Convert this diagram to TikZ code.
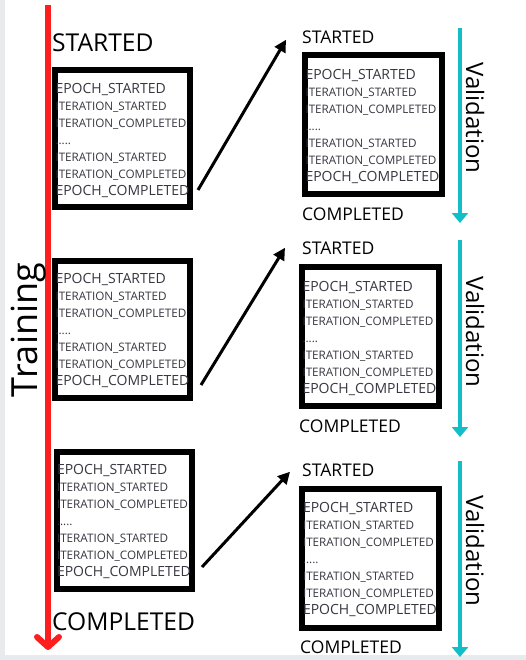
\documentclass[tikz,border=0pt]{standalone}
\usepackage{fontspec}
\setmainfont{Open Sans}
\usepackage{xcolor}
\usepackage{tikz}
\usetikzlibrary{arrows.meta}

\definecolor{trainred}{RGB}{255,30,30}
\definecolor{valcyan}{RGB}{20,190,200}
\definecolor{evgray}{RGB}{55,55,65}
\definecolor{edgegray}{RGB}{232,235,238}

\newcommand{\evbig}{\fontsize{14}{17}\selectfont}
\newcommand{\evsmall}{\fontsize{11.7}{17}\selectfont}
\newcommand{\epochevents}{%
  \evbig\rule{0pt}{14pt}EPOCH\_STARTED\\
  \evsmall ITERATION\_STARTED\\
  \evsmall ITERATION\_COMPLETED\\
  \evsmall .....\\
  \evsmall ITERATION\_STARTED\\
  \evsmall ITERATION\_COMPLETED\\
  \evbig EPOCH\_COMPLETED}

\begin{document}
\begin{tikzpicture}[x=1pt,y=-1pt,
    evbox/.style={draw,line width=6pt,text width=134pt,inner xsep=0.5pt,minimum height=137pt,align=left,font=\evbig,text=evgray},
    valbox/.style={evbox,text width=135pt,inner xsep=1pt,minimum height=139pt},
    biglabel/.style={font=\fontsize{24.6}{28}\selectfont,inner sep=0pt,anchor=base west},
    smalllabel/.style={font=\fontsize{17.5}{20}\selectfont,inner sep=0pt,anchor=base west},
    epocharrow/.style={-{Triangle[length=12pt,width=12pt]},line width=3pt},
    valline/.style={-{Triangle[length=10pt,width=16pt]},line width=4pt,valcyan}]
    \useasboundingbox (0,0) rectangle (526,660);
    \fill[edgegray] (0,0) rectangle (526,660);
    \fill[white] (5,0) rectangle (526,655);

    % Training
    \coordinate (ttop) at (48,5);
    \coordinate (tbot) at (48,650);
    \draw[-{Straight Barb[round,length=10pt,width=22pt]},line width=6pt,trainred] (ttop) -- (tbot);
    \node[rotate=90,font=\fontsize{36}{40}\selectfont] (train) at (29,330) {Training};
    \node[biglabel] (ts) at (52,52) {STARTED};
    \node[biglabel] (tc) at (52,630) {COMPLETED};
    \node[evbox] (e1) at (122.5,138.5) {\epochevents};
    \node[evbox] (e2) at (122.5,329) {\epochevents};
    \node[evbox] (e3) at (124,520) {\epochevents};

    % Validation 1
    \node[smalllabel] (vs1) at (302,44) {STARTED};
    \node[valbox] (v1) at (373,124.5) {\epochevents};
    \node[smalllabel] (vc1) at (302,220) {COMPLETED};
    \coordinate (va1) at (460,28);
    \coordinate (vb1) at (460,223);
    \draw[valline] (va1) -- (vb1);
    \node[rotate=-90,font=\fontsize{24}{28}\selectfont] (vl1) at (475,118) {Validation};

    % Validation 2
    \node[smalllabel] (vs2) at (302,254) {STARTED};
    \node[valbox] (v2) at (370,336.5) {\epochevents};
    \node[smalllabel] (vc2) at (299,432) {COMPLETED};
    \coordinate (va2) at (460,240);
    \coordinate (vb2) at (460,437);
    \draw[valline] (va2) -- (vb2);
    \node[rotate=-90,font=\fontsize{24}{28}\selectfont] (vl2) at (475,332) {Validation};

    % Validation 3
    \node[smalllabel] (vs3) at (302,476) {STARTED};
    \node[valbox] (v3) at (370.5,558) {\epochevents};
    \node[smalllabel] (vc3) at (300,653) {COMPLETED};
    \coordinate (va3) at (460,461);
    \coordinate (vb3) at (460,657);
    \draw[valline] (va3) -- (vb3);
    \node[rotate=-90,font=\fontsize{24}{28}\selectfont] (vl3) at (475,551) {Validation};

    % epoch -> validation
    \draw[epocharrow] ([shift={(5,-20)}]e1.south east) -- ([shift={(-16,2)}]vs1.west);
    \draw[epocharrow] ([shift={(8,-15.5)}]e2.south east) -- ([shift={(-17,0)}]vs2.west);
    \draw[epocharrow] ([shift={(7.5,-24.5)}]e3.south east) -- ([shift={(-12,2)}]vs3.west);
\end{tikzpicture}
\end{document}
